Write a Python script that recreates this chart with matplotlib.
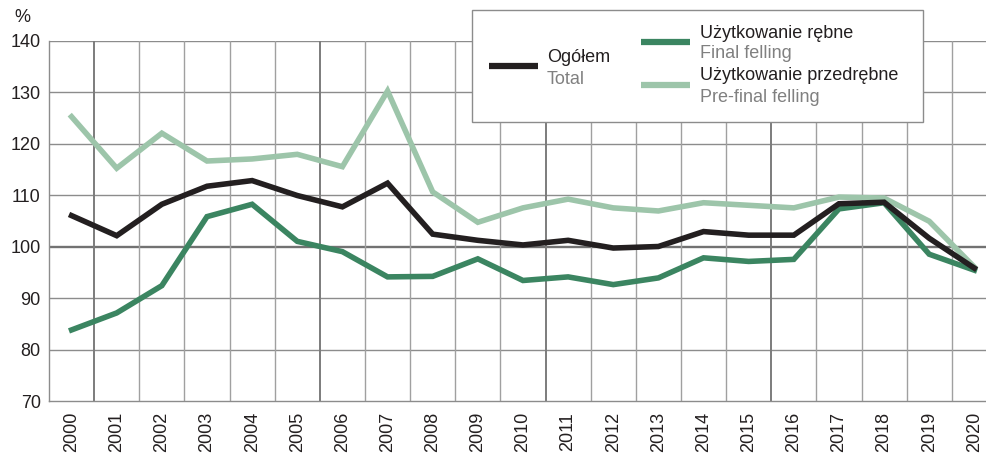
import numpy as np
import matplotlib
matplotlib.use("Agg")
import matplotlib.pyplot as plt
from matplotlib.lines import Line2D

plt.rcParams['font.family'] = ['Liberation Sans', 'DejaVu Sans']

years = [str(y) for y in range(2000, 2021)]

# Ogółem / Total
total = [106.0, 102.1, 108.2, 111.7, 112.8, 109.9, 107.7, 112.3, 102.4, 101.2, 100.3,
         101.2, 99.7, 100.0, 102.9, 102.2, 102.2, 108.3, 108.6, 101.6, 95.8]
# Użytkowanie rębne / Final felling
final = [83.8, 87.1, 92.4, 105.8, 108.2, 101.0, 99.0, 94.1, 94.2, 97.6, 93.4,
         94.1, 92.6, 93.9, 97.8, 97.1, 97.5, 107.3, 108.5, 98.5, 95.4]
# Użytkowanie przedrębne / Pre-final felling
prefinal = [125.2, 115.2, 122.0, 116.6, 117.0, 117.9, 115.5, 130.2, 110.6, 104.7, 107.5,
            109.2, 107.5, 106.9, 108.5, 108.0, 107.5, 109.6, 109.4, 104.9, 96.0]

c_total = '#231f20'
c_final = '#3b8561'
c_pre = '#9dc5aa'
grid_c = '#8c8c8c'

W, H = 987, 454
fig = plt.figure(figsize=(W / 100, H / 100), dpi=100)
left, right, top, bottom = 49, 987, 40.5, 401
ax = fig.add_axes([left / W, (H - bottom) / H, (right - left) / W, (bottom - top) / H])

x = np.arange(len(years))
ax.set_xlim(-0.5, 20.28)
ax.set_ylim(70, 140)

# grid
for yv in range(80, 140, 10):
    ax.axhline(yv, color='#727272' if yv == 100 else grid_c,
               lw=1.7 if yv == 100 else 1.0, zorder=1)
ax.axhline(140, color=grid_c, lw=1.0, zorder=1)
for k in range(1, 21):
    dark = (k % 5 == 1)
    ax.axvline(k - 0.5, color='#7c7c7c' if dark else '#a0a0a0',
               lw=1.4 if dark else 1.0, zorder=1)

ax.plot(x, prefinal, color=c_pre, lw=4, zorder=3, solid_joinstyle='miter')
ax.plot(x, final, color=c_final, lw=4, zorder=4, solid_joinstyle='miter')
ax.plot(x, total, color=c_total, lw=4, zorder=5, solid_joinstyle='miter')

for s in ['top', 'right']:
    ax.spines[s].set_visible(False)
ax.spines['left'].set_color(grid_c)
ax.spines['bottom'].set_color(grid_c)
ax.spines['left'].set_linewidth(1.0)
ax.spines['bottom'].set_linewidth(1.0)

ax.set_xticks(x)
ax.set_xticklabels(years, rotation=90, fontsize=12.5, color='#231f20')
ax.set_yticks(range(70, 141, 10))
ax.tick_params(axis='both', length=0, labelsize=13, colors='#231f20')
ax.tick_params(axis='x', pad=8)
ax.tick_params(axis='y', pad=6)

fig.text(22 / W, 1 - 18 / H, '%', fontsize=13, color='#231f20', ha='center', va='center')

# legend box
bx0, by0, bx1, by1 = 472, 10, 923, 122
fig.patches.append(plt.Rectangle((bx0 / W, 1 - by1 / H), (bx1 - bx0) / W, (by1 - by0) / H,
                                 transform=fig.transFigure, facecolor='white',
                                 edgecolor='#8c8c8c', lw=1.0, zorder=10))


def leg_entry(x0, x1, yl, color, tx, y1, t1, y2, t2):
    fig.add_artist(Line2D([x0 / W, x1 / W], [1 - yl / H, 1 - yl / H], color=color, lw=4.5,
                          transform=fig.transFigure, zorder=11, solid_capstyle='butt'))
    fig.text(tx / W, 1 - y1 / H, t1, fontsize=13, color='#231f20', va='center', zorder=11)
    fig.text(tx / W, 1 - y2 / H, t2, fontsize=13, color='#808080', va='center', zorder=11)


leg_entry(489, 538, 66, c_total, 547, 58, 'Ogółem', 79, 'Total')
leg_entry(641, 690, 42, c_final, 700, 33, 'Użytkowanie rębne', 54, 'Final felling')
leg_entry(641, 690, 85, c_pre, 700, 76, 'Użytkowanie przedrębne', 97, 'Pre-final felling')

fig.savefig('out.png', dpi=100)
